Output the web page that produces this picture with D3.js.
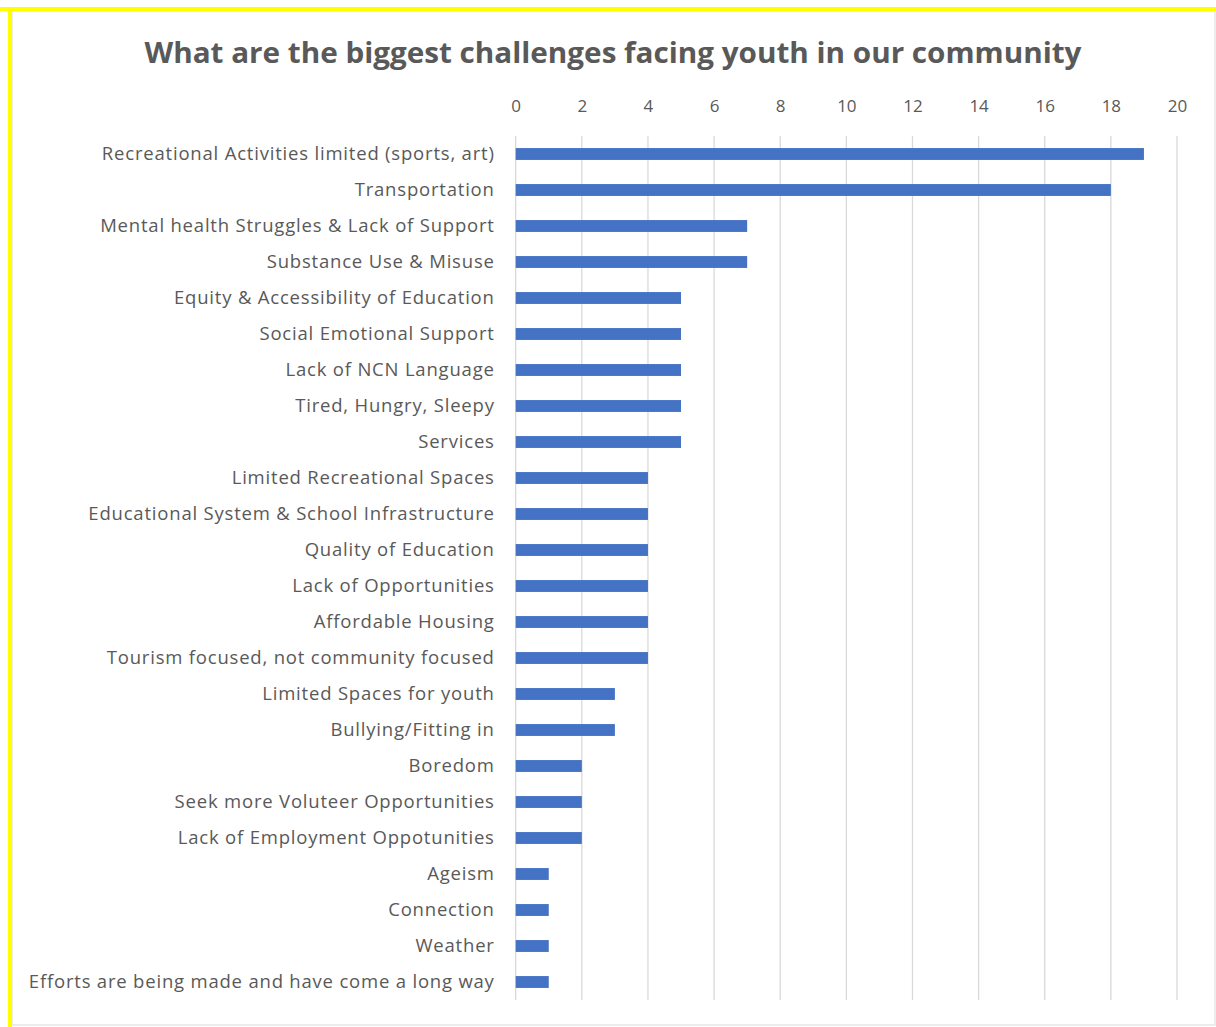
<!DOCTYPE html>
<html>
<head>
<meta charset="utf-8">
<script src="https://cdn.jsdelivr.net/npm/d3@7"></script>
<style>
html,body{margin:0;padding:0;background:#fff;}
svg{display:block;}
</style>
</head>
<body>
<svg id="chart" width="1216" height="1027"></svg>
<script>
const categories = [
  "Recreational Activities limited (sports, art)",
  "Transportation",
  "Mental health Struggles & Lack of Support",
  "Substance Use & Misuse",
  "Equity & Accessibility of Education",
  "Social Emotional Support",
  "Lack of NCN Language",
  "Tired, Hungry, Sleepy",
  "Services",
  "Limited Recreational Spaces",
  "Educational System & School Infrastructure",
  "Quality of Education",
  "Lack of Opportunities",
  "Affordable Housing",
  "Tourism focused, not community focused",
  "Limited Spaces for youth",
  "Bullying/Fitting in",
  "Boredom",
  "Seek more Voluteer Opportunities",
  "Lack of Employment Oppotunities",
  "Ageism",
  "Connection",
  "Weather",
  "Efforts are being made and have come a long way"
];
const values = [19, 18, 7, 7, 5, 5, 5, 5, 5, 4, 4, 4, 4, 4, 4, 3, 3, 2, 2, 2, 1, 1, 1, 1];
const tickValues = [0, 2, 4, 6, 8, 10, 12, 14, 16, 18, 20];
const title = "What are the biggest challenges facing youth in our community";

const svg = d3.select("#chart");
const textColor = "#595959";

// frame
svg.append("rect").attr("x", 12).attr("y", 11).attr("width", 1203).attr("height", 1014)
  .attr("fill", "#fff").attr("stroke", "#d9d9d9").attr("stroke-width", 1);
svg.append("line").attr("x1", 0).attr("x2", 1216).attr("y1", 9).attr("y2", 9)
  .attr("stroke", "#ffff00").attr("stroke-width", 4);
svg.append("line").attr("x1", 10).attr("x2", 10).attr("y1", 7).attr("y2", 1027)
  .attr("stroke", "#ffff00").attr("stroke-width", 4);

// title
svg.append("text").attr("x", 613).attr("y", 63).attr("text-anchor", "middle")
  .attr("font-family", "'Open Sans', sans-serif").attr("font-weight", "bold")
  .attr("font-size", 28).attr("fill", textColor)
  .attr("textLength", 937).attr("lengthAdjust", "spacingAndGlyphs")
  .text(title);

const x = d3.scaleLinear().domain([0, 20]).range([515.7, 1177]);
const y = d3.scaleBand().domain(categories).range([136, 1000]).paddingInner(0.67).paddingOuter(0.335);

// gridlines
svg.append("g").selectAll("line").data(tickValues).join("line")
  .attr("x1", d => x(d)).attr("x2", d => x(d))
  .attr("y1", 136).attr("y2", 1000)
  .attr("stroke", "#d9d9d9").attr("stroke-width", 1.3);

// top axis labels
const xAxis = d3.axisTop(x).tickValues(tickValues).tickSize(0).tickPadding(0);
const gx = svg.append("g").attr("transform", "translate(0,112)").call(xAxis);
gx.select(".domain").remove();
gx.selectAll("text").attr("font-family", "'Open Sans', sans-serif").attr("font-size", 17)
  .attr("fill", textColor);

// bars
svg.append("g").selectAll("rect").data(categories).join("rect")
  .attr("x", x(0)).attr("y", (d) => y(d))
  .attr("width", (d, i) => x(values[i]) - x(0))
  .attr("height", y.bandwidth())
  .attr("fill", "#4472c4");

// category labels
const yAxis = d3.axisLeft(y).tickSize(0).tickPadding(21);
const gy = svg.append("g").attr("transform", `translate(${x(0)},0)`).call(yAxis);
gy.select(".domain").remove();
gy.selectAll("text").attr("font-family", "'Open Sans', sans-serif").attr("font-size", 18.5)
  .attr("fill", textColor).attr("letter-spacing", 0.8);
</script>
</body>
</html>
